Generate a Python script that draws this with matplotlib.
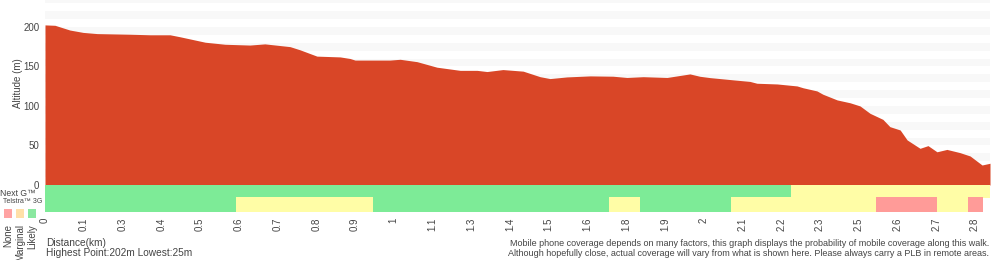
import matplotlib
matplotlib.use("Agg")
import matplotlib.pyplot as plt
import numpy as np

plt.rcParams['font.family'] = ['Liberation Sans', 'DejaVu Sans']

# elevation profile (km, m)
dist = [0, 0.030, 0.075, 0.115, 0.157, 0.256, 0.317, 0.377, 0.407, 0.483,
        0.543, 0.618, 0.663, 0.739, 0.769, 0.820, 0.890, 0.920, 0.935, 1.040,
        1.071, 1.122, 1.182, 1.252, 1.303, 1.333, 1.381, 1.442, 1.493, 1.523,
        1.574, 1.644, 1.713, 1.755, 1.804, 1.876, 1.945, 1.975, 2.006, 2.036,
        2.075, 2.126, 2.147, 2.208, 2.268, 2.286, 2.328, 2.346, 2.389, 2.428,
        2.458, 2.488, 2.527, 2.548, 2.579, 2.600, 2.639, 2.663, 2.690, 2.720,
        2.759, 2.790, 2.826, 2.850]
alt = [202.5, 202, 196, 193, 191.5, 190.7, 190, 190, 187.5, 180.6,
       178, 177, 178.5, 175, 171, 163, 162, 160, 158, 158,
       159, 156, 149, 145, 145, 143.5, 146, 144, 137, 134.6,
       136.7, 138, 137.6, 136, 137, 136, 140.5, 137.5, 135.8, 134.6,
       133, 131, 128.7, 127.8, 125.3, 123, 119, 114.8, 107.6, 104,
       100, 90.7, 83, 73.8, 69.6, 57, 46.4, 49.8, 42, 45,
       41, 36.7, 25.3, 27.5]
total_km = 2.85

# coverage segments: (start km, end km, level) 0=none 1=marginal 2=likely
nextg = [(0, 2.250, 2), (2.250, 2.850, 1)]
tel3g = [(0, 0.576, 2), (0.576, 0.989, 1), (0.989, 1.701, 2), (1.701, 1.794, 1),
         (1.794, 2.069, 2), (2.069, 2.506, 1), (2.506, 2.690, 0), (2.690, 2.784, 1),
         (2.784, 2.829, 0)]

tick_labels = ['0', '0.1', '0.3', '0.4', '0.5', '0.6', '0.7', '0.8', '0.9', '1',
               '1.1', '1.3', '1.4', '1.5', '1.6', '1.8', '1.9', '2', '2.1', '2.2',
               '2.3', '2.5', '2.6', '2.7', '2.8']
y_ticks = [0, 50, 100, 150, 200]

cov_colors = {0: '#ff9b98', 1: '#fffda6', 2: '#7deb97'}
txt = '#444444'

fig = plt.figure(figsize=(10, 2.6), dpi=100)
ax = fig.add_axes([0.045, 1 - 185 / 260, 0.945, 185 / 260])
ax.set_xlim(0, total_km)
ax.set_ylim(0, 234)
for lo in range(10, 240, 20):
    ax.axhspan(lo, lo + 10, color='#f8f8f8', lw=0, zorder=0)
ax.fill_between(dist, alt, 0, color='#d94627', lw=0, zorder=2)
ax.set_yticks(y_ticks)
ax.set_yticklabels([str(v) for v in y_ticks])
ax.tick_params(axis='y', length=0, pad=4, labelsize=7, labelcolor=txt)
ax.set_xticks([])
for s in ax.spines.values():
    s.set_visible(False)
ax.set_ylabel('Altitude (m)', fontsize=7, color=txt)
ax.yaxis.set_label_coords(-0.023, 0.55)

cax = fig.add_axes([0.045, 1 - 212 / 260, 0.945, 27 / 260])
cax.set_xlim(0, total_km)
cax.set_ylim(27, 0)
for a, b, lvl in nextg:
    cax.broken_barh([(a, b - a)], (0, 13), color=cov_colors[lvl], lw=0)
for a, b, lvl in tel3g:
    cax.broken_barh([(a, b - a)], (12, 15), color=cov_colors[lvl], lw=0)
step = total_km / 24.39
cax.set_xticks(np.arange(len(tick_labels)) * step)
cax.set_xticklabels(tick_labels, rotation=90, fontsize=7, color=txt)
cax.tick_params(axis='x', length=0, pad=4)
cax.set_yticks([])
for s in cax.spines.values():
    s.set_visible(False)

fig.text(0.0, 1 - 193 / 260, 'Next G™', fontsize=6.2, color=txt, va='center', ha='left')
fig.text(0.003, 1 - 201.5 / 260, 'Telstra™ 3G', fontsize=5, color=txt, va='center', ha='left')
leg_cols = ['#ffa3a3', '#ffe0a8', '#8ae8a0']
leg_names = ['None', 'Marginal', 'Likely']
for i, (c, n) in enumerate(zip(leg_cols, leg_names)):
    x0 = (4 + 12 * i) / 1000
    fig.patches.append(plt.Rectangle((x0, 1 - 218 / 260), 0.008, 9 / 260,
                                     transform=fig.transFigure, color=c, lw=0))
    fig.text(x0 + 0.004, 1 - 224 / 260, n, rotation=90, fontsize=7, color=txt,
             ha='center', va='top')

fig.text(0.046, 1 - 243 / 260, 'Distance(km)', fontsize=7.3, color=txt, va='center')
fig.text(0.046, 1 - 253 / 260, 'Highest Point:202m Lowest:25m', fontsize=7.3, color=txt, va='center')
fig.text(0.989, 1 - 243 / 260,
         'Mobile phone coverage depends on many factors, this graph displays the probability of mobile coverage along this walk.',
         fontsize=6.5, color=txt, va='center', ha='right')
fig.text(0.989, 1 - 253 / 260,
         'Although hopefully close, actual coverage will vary from what is shown here. Please always carry a PLB in remote areas.',
         fontsize=6.5, color=txt, va='center', ha='right')

fig.savefig('out.png', dpi=100)
